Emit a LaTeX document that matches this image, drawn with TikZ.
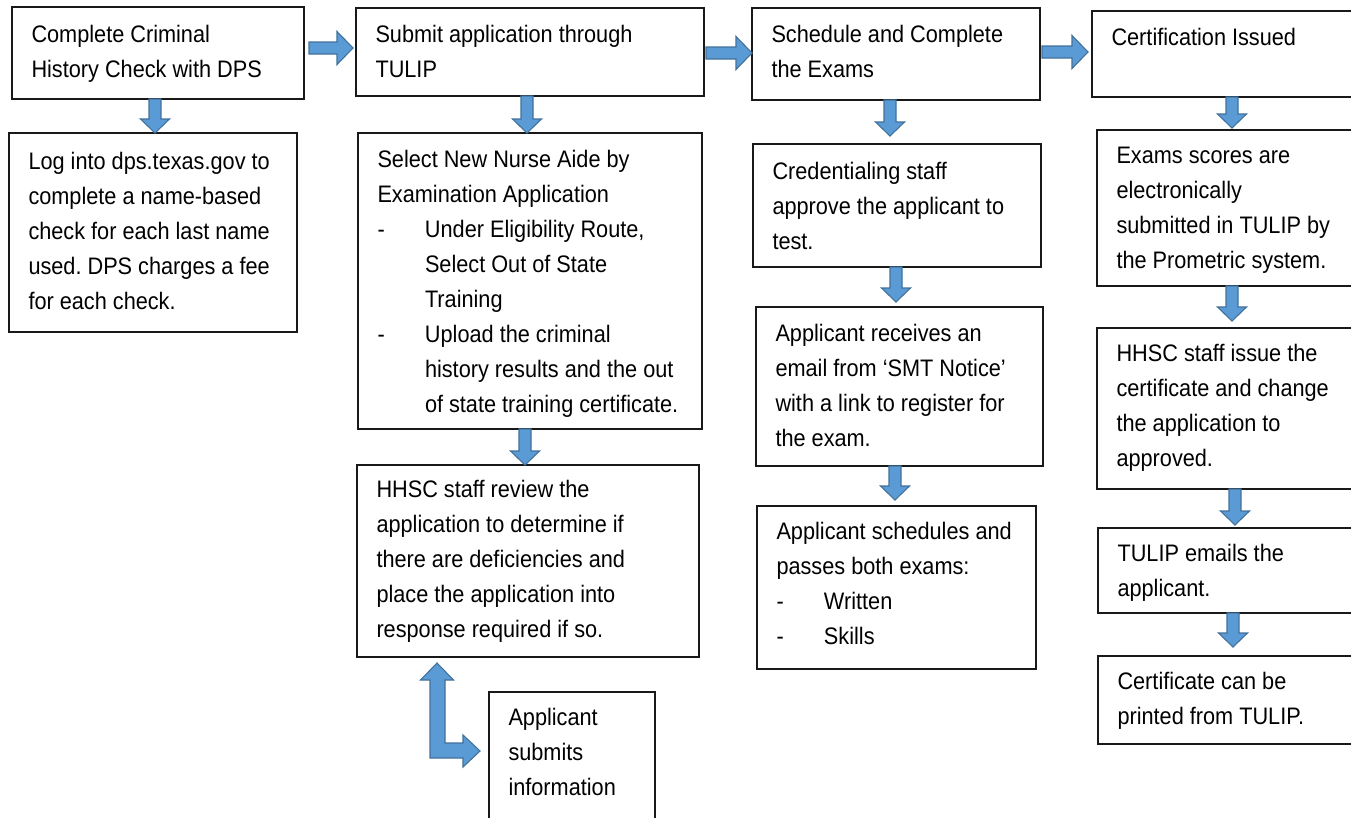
\documentclass[tikz,border=0pt]{standalone}
\usepackage{fontspec}
\setmainfont{Liberation Sans}
\usetikzlibrary{calc}
\frenchspacing
\definecolor{arrfill}{RGB}{91,155,213}
\definecolor{arredge}{RGB}{65,113,156}
% down block arrow: #1 x centre, #2 from node, #3 to node, #4 gap before target
\newcommand\mydarr[4]{%
  \path[barrow] let \p1=(#2.south), \p2=(#3.north) in
    (#1pt-6pt,\y1) -- (#1pt+6pt,\y1) -- (#1pt+6pt,\y2+#4pt+14pt) -- (#1pt+14.5pt,\y2+#4pt+14pt)
    -- (#1pt,\y2+#4pt) -- (#1pt-14.5pt,\y2+#4pt+14pt) -- (#1pt-6pt,\y2+#4pt+14pt) -- cycle;}
% right block arrow: #1 from, #2 to, #3 y centre, #4 start gap, #5 end gap
\newcommand\myrarr[5]{%
  \path[barrow] let \p1=(#1.east), \p2=(#2.west) in
    (\x1+#4pt,-#3pt+6pt) -- (\x2-#5pt-16pt,-#3pt+6pt) -- (\x2-#5pt-16pt,-#3pt+16.5pt)
    -- (\x2-#5pt,-#3pt) -- (\x2-#5pt-16pt,-#3pt-16.5pt) -- (\x2-#5pt-16pt,-#3pt-6pt)
    -- (\x1+#4pt,-#3pt-6pt) -- cycle;}
\newcommand\myind{\hspace*{47.5pt}}
\newcommand\mydash{\makebox[47.5pt][l]{-}}
\begin{document}
\begin{tikzpicture}[x=1pt,y=-1pt,
  box/.style={draw=black!90, line width=1.2pt, anchor=north west, inner sep=0pt, outer sep=0pt},
  txt/.style={anchor=north west, inner sep=0pt, outer sep=0pt, align=left,
    font=\fontsize{21.7}{31.8}\selectfont\frenchspacing, yscale=1.1,
    execute at begin node=\rule{0pt}{16pt}},
  barrow/.style={fill=arrfill, draw=arredge, line width=1.1pt, line join=miter}]
\useasboundingbox (0,0) rectangle (1351,817);
\fill[white] (0,0) rectangle (1351,817);

% boxes
\node[box, minimum width=292pt, minimum height=92pt] (b1) at (12,7) {};
\node[box, minimum width=288pt, minimum height=199pt] (b2) at (9,133) {};
\node[box, minimum width=348pt, minimum height=88pt] (s1) at (356,8) {};
\node[box, minimum width=344pt, minimum height=296pt] (s2) at (358,133) {};
\node[box, minimum width=342pt, minimum height=192pt] (s3) at (357,465) {};
\node[box, minimum width=166pt, minimum height=140pt] (s4) at (489,692) {};
\node[box, minimum width=288pt, minimum height=92pt] (e1) at (752,8) {};
\node[box, minimum width=288pt, minimum height=123pt] (e2) at (753,144) {};
\node[box, minimum width=287pt, minimum height=159pt] (e3) at (756,307) {};
\node[box, minimum width=279pt, minimum height=163pt] (e4) at (757,506) {};
\node[box, minimum width=290pt, minimum height=86pt] (c1) at (1092,11) {};
\node[box, minimum width=290pt, minimum height=156pt] (c2) at (1097,130) {};
\node[box, minimum width=290pt, minimum height=161pt] (c3) at (1097,328) {};
\node[box, minimum width=290pt, minimum height=85pt] (c4) at (1098,528) {};
\node[box, minimum width=290pt, minimum height=88pt] (c5) at (1098,656) {};

% texts
\node[txt] (tb1) at ([shift={(19.5,18.4)}]b1.north west) {Complete Criminal\\History Check with DPS};
\node[txt] (tb2) at ([shift={(19.5,19.4)}]b2.north west) {Log into dps.texas.gov to\\complete a name-based\\check for each last name\\used. DPS charges a fee\\for each check.};
\node[txt] (ts1) at ([shift={(19.5,17.4)}]s1.north west) {Submit application through\\TULIP};
\node[txt] (ts2) at ([shift={(19.5,17.4)}]s2.north west) {Select New Nurse Aide by\\Examination Application\\\mydash Under Eligibility Route,\\\myind Select Out of State\\\myind Training\\\mydash Upload the criminal\\\myind history results and the out\\\myind of state training certificate.};
\node[txt] (ts3) at ([shift={(19.5,15.4)}]s3.north west) {HHSC staff review the\\application to determine if\\there are deficiencies and\\place the application into\\response required if so.};
\node[txt] (ts4) at ([shift={(19.5,16.4)}]s4.north west) {Applicant\\submits\\information};
\node[txt] (te1) at ([shift={(19.5,17.4)}]e1.north west) {Schedule and Complete\\the Exams};
\node[txt] (te2) at ([shift={(19.5,18.4)}]e2.north west) {Credentialing staff\\approve the applicant to\\test.};
\node[txt] (te3) at ([shift={(19.5,17.4)}]e3.north west) {Applicant receives an\\email from ‘SMT Notice’\\with a link to register for\\the exam.};
\node[txt] (te4) at ([shift={(19.5,16.4)}]e4.north west) {Applicant schedules and\\passes both exams:\\\mydash Written\\\mydash Skills};
\node[txt] (tc1) at ([shift={(19.5,16.4)}]c1.north west) {Certification Issued};
\node[txt] (tc2) at ([shift={(19.5,17.4)}]c2.north west) {Exams scores are\\electronically\\submitted in TULIP by\\the Prometric system.};
\node[txt] (tc3) at ([shift={(19.5,16.4)}]c3.north west) {HHSC staff issue the\\certificate and change\\the application to\\approved.};
\node[txt] (tc4) at ([shift={(19.5,16.4)}]c4.north west) {TULIP emails the\\applicant.};
\node[txt] (tc5) at ([shift={(19.5,16.4)}]c5.north west) {Certificate can be\\printed from TULIP.};

% arrows
\mydarr{155}{b1}{b2}{0}
\mydarr{527}{s1}{s2}{0}
\mydarr{525}{s2}{s3}{0}
\mydarr{890}{e1}{e2}{8}
\mydarr{896}{e2}{e3}{5}
\mydarr{895}{e3}{e4}{6}
\mydarr{1232}{c1}{c2}{2}
\mydarr{1232}{c2}{c3}{7}
\mydarr{1235}{c3}{c4}{3}
\mydarr{1233}{c4}{c5}{9}
\myrarr{b1}{s1}{48}{5}{3}
\myrarr{s1}{e1}{53}{2}{0}
\myrarr{e1}{c1}{52}{2}{4}

% L-shaped arrow between review box and applicant box
\path[barrow] let \p1=(s3.south), \p2=(s4.north west) in
  (437pt,\y1-6pt) -- (453.5pt,\y1-23pt) -- (445pt,\y1-23pt) -- (445pt,\y2-51pt)
  -- (\x2-26pt,\y2-51pt) -- (\x2-26pt,\y2-43pt) -- (\x2-9pt,\y2-59pt) -- (\x2-26pt,\y2-75pt)
  -- (\x2-26pt,\y2-66pt) -- (430pt,\y2-66pt) -- (430pt,\y1-23pt) -- (420.5pt,\y1-23pt) -- cycle;
\end{tikzpicture}
\end{document}
